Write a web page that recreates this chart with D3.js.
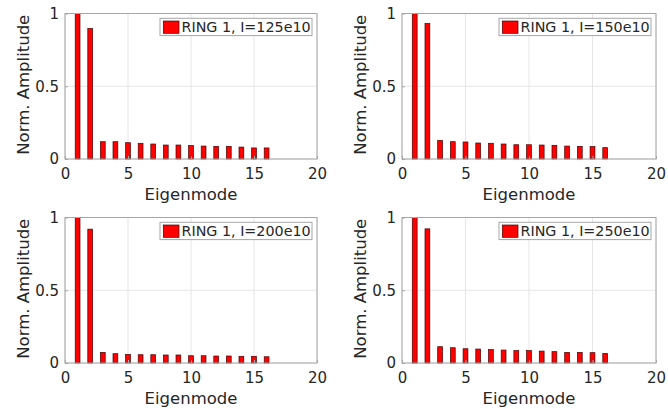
<!DOCTYPE html>
<html>
<head>
<meta charset="utf-8">
<script src="https://cdn.jsdelivr.net/npm/d3@7"></script>
<style>
  body { margin: 0; background: #fff; }
  text { font-family: "DejaVu Sans", sans-serif; fill: #262626; }
</style>
</head>
<body>
<svg id="chart" width="668" height="409"></svg>
<script>
// eigenmode numbers (x) and normalized amplitudes per beam intensity
var modes = [1, 2, 3, 4, 5, 6, 7, 8, 9, 10, 11, 12, 13, 14, 15, 16];
var amp125 = [1, 0.897, 0.119, 0.119, 0.112, 0.108, 0.103, 0.096, 0.096, 0.092, 0.089, 0.087, 0.087, 0.082, 0.076, 0.076];
var amp150 = [1, 0.931, 0.128, 0.119, 0.117, 0.110, 0.108, 0.103, 0.098, 0.098, 0.096, 0.094, 0.089, 0.087, 0.085, 0.078];
var amp200 = [1, 0.920, 0.073, 0.064, 0.059, 0.057, 0.057, 0.055, 0.055, 0.050, 0.050, 0.048, 0.048, 0.046, 0.046, 0.043];
var amp250 = [1, 0.922, 0.112, 0.105, 0.098, 0.096, 0.092, 0.089, 0.085, 0.085, 0.082, 0.078, 0.073, 0.073, 0.071, 0.066];
var legendLabels = ["RING 1, I=125e10", "RING 1, I=150e10", "RING 1, I=200e10", "RING 1, I=250e10"];
var xTicks = [0, 5, 10, 15, 20];
var yTicks = [0, 0.5, 1];
var xLabel = "Eigenmode";
var yLabel = "Norm. Amplitude";

var series = [amp125, amp150, amp200, amp250];

// panel boxes: left, top, right, bottom
var panels = [
  {l: 65, t: 13.5, r: 317, b: 159},
  {l: 402, t: 13.5, r: 656, b: 159},
  {l: 65, t: 217.5, r: 317, b: 363},
  {l: 402, t: 217.5, r: 656, b: 363}
];

var svg = d3.select("#chart");

panels.forEach(function(p, k) {
  var x = d3.scaleLinear().domain([0, 20]).range([p.l, p.r]);
  var y = d3.scaleLinear().domain([0, 1]).range([p.b, p.t]);
  var g = svg.append("g");

  // grid
  g.selectAll(".gx").data(xTicks).enter().append("line")
    .attr("x1", function(d) { return x(d); }).attr("x2", function(d) { return x(d); })
    .attr("y1", p.t).attr("y2", p.b)
    .attr("stroke", "#e6e6e6").attr("stroke-width", 1);
  g.selectAll(".gy").data(yTicks).enter().append("line")
    .attr("x1", p.l).attr("x2", p.r)
    .attr("y1", function(d) { return y(d); }).attr("y2", function(d) { return y(d); })
    .attr("stroke", "#e6e6e6").attr("stroke-width", 1);

  // bars
  var data = modes.map(function(m, i) { return {m: m, v: series[k][i]}; });
  var bw = x(0.38) - x(0);
  g.selectAll("rect.bar").data(data).enter().append("rect")
    .attr("class", "bar")
    .attr("x", function(d) { return x(d.m) - bw / 2; })
    .attr("y", function(d) { return y(d.v); })
    .attr("width", bw)
    .attr("height", function(d) { return y(0) - y(d.v); })
    .attr("fill", "#ff0000")
    .attr("stroke", "#4a0000")
    .attr("stroke-width", 0.7);

  // axes
  var ax = g.append("g").attr("transform", "translate(0," + p.b + ")")
    .call(d3.axisBottom(x).tickValues(xTicks).tickSize(-3).tickPadding(9).tickFormat(d3.format("d")));
  var ay = g.append("g").attr("transform", "translate(" + p.l + ",0)")
    .call(d3.axisLeft(y).tickValues(yTicks).tickSize(-3).tickPadding(6).tickFormat(function(d) { return d === 0.5 ? "0.5" : d3.format("d")(d); }));
  [ax, ay].forEach(function(a) {
    a.select(".domain").remove();
    a.selectAll("line").attr("stroke", "#a6a6a6");
    a.selectAll("text").style("font-size", "15px").attr("fill", "#262626");
  });
  g.append("rect")
    .attr("x", p.l).attr("y", p.t)
    .attr("width", p.r - p.l).attr("height", p.b - p.t)
    .attr("fill", "none").attr("stroke", "#a6a6a6").attr("stroke-width", 1);

  g.append("text")
    .attr("x", (p.l + p.r) / 2).attr("y", p.b + 41)
    .attr("text-anchor", "middle").style("font-size", "16.5px")
    .text(xLabel);
  g.append("text")
    .attr("transform", "translate(" + (p.l - 36.5) + "," + ((p.t + p.b) / 2 - 1.5) + ") rotate(-90)")
    .attr("text-anchor", "middle").style("font-size", "16.5px")
    .text(yLabel);

  // legend
  var lg = g.append("g").attr("transform", "translate(" + (p.r - 157) + "," + (p.t + 4.8) + ")");
  lg.append("rect").attr("x", 0).attr("y", 0).attr("width", 152).attr("height", 17.3)
    .attr("fill", "#fff").attr("stroke", "#a6a6a6").attr("stroke-width", 1);
  lg.append("rect").attr("x", 3.3).attr("y", 2.7).attr("width", 15.7).attr("height", 12.3)
    .attr("fill", "#ff0000").attr("stroke", "#4a0000").attr("stroke-width", 0.7);
  lg.append("text").attr("x", 21.5).attr("y", 14)
    .style("font-size", "14.3px").text(legendLabels[k]);
});
</script>
</body>
</html>
